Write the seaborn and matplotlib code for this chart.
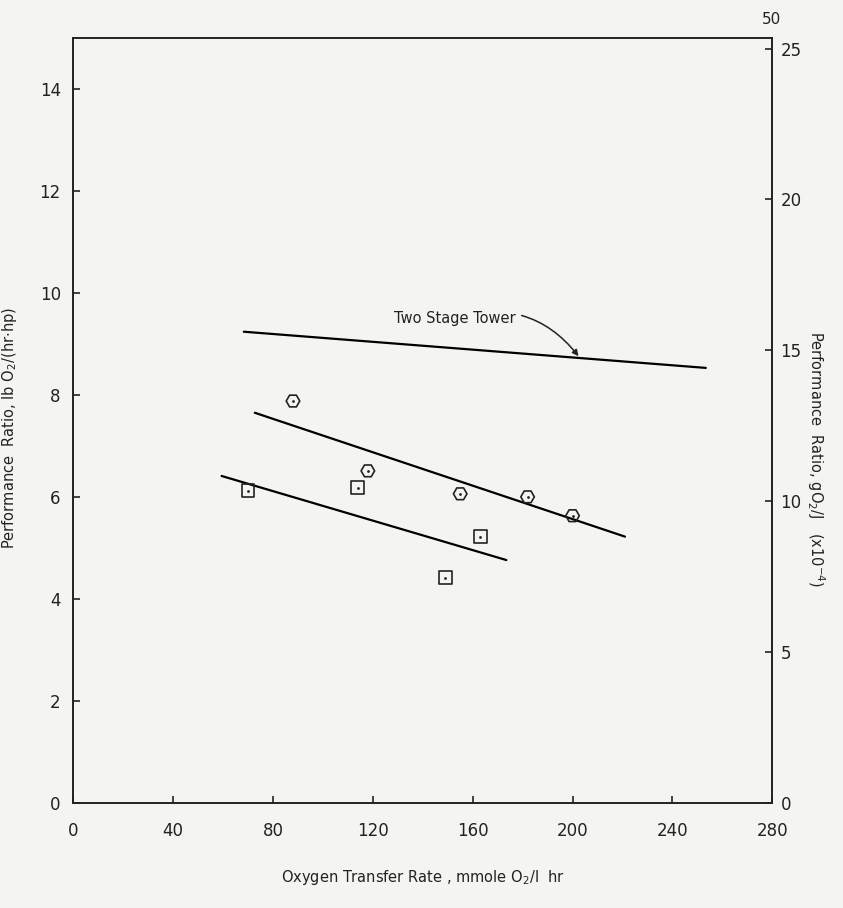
import numpy as np
import pandas as pd
from matplotlib import pyplot as plt
import seaborn as sns

# data
circ_x = [88, 118, 155, 182, 200]
circ_y = [7.88, 6.51, 6.06, 6.0, 5.63]
sq_x = [70, 114, 149, 163]
sq_y = [6.12, 6.18, 4.41, 5.22]

# fitted lines (end points)
upper_x = [72.7, 221]
upper_y = [7.65, 5.22]
lower_x = [59.4, 173.5]
lower_y = [6.41, 4.76]
tower_x = [68.3, 253.4]
tower_y = [9.24, 8.53]

xticks = [0, 40, 80, 120, 160, 200, 240, 280]
yticks_left = [0, 2, 4, 6, 8, 10, 12, 14]
yticks_right = [0, 5, 10, 15, 20, 25]
conv = 1.69  # lb O2/(hr hp) -> g O2/J x1e-4

sns.set_style("ticks")
plt.rcParams['font.family'] = ['DejaVu Sans']
ink = '#222222'
bg = '#f4f4f3'

fig = plt.figure(figsize=(8.43, 9.08), dpi=100, facecolor=bg)
ax = fig.add_axes([0.087, 0.116, 0.829, 0.842])
ax.set_facecolor(bg)

for xs, ys in [(upper_x, upper_y), (lower_x, lower_y), (tower_x, tower_y)]:
    sns.lineplot(x=xs, y=ys, ax=ax, color='black', lw=1.6, estimator=None)

sns.scatterplot(x=circ_x, y=circ_y, ax=ax, marker='H', s=95, facecolor='none',
                edgecolor=ink, linewidth=1.2, zorder=3)
sns.scatterplot(x=sq_x, y=sq_y, ax=ax, marker='s', s=85, facecolor='none',
                edgecolor=ink, linewidth=1.2, zorder=3)
sns.scatterplot(x=circ_x + sq_x, y=circ_y + sq_y, ax=ax, marker='o', s=4,
                color=ink, linewidth=0, zorder=4)

ax.annotate('Two Stage Tower', xy=(202.4, 8.76), xytext=(128.5, 9.49),
            fontsize=10.5, color=ink, va='center', ha='left',
            arrowprops=dict(arrowstyle='-|>', color=ink, lw=1.1,
                            connectionstyle='arc3,rad=-0.35',
                            shrinkA=2, shrinkB=0, mutation_scale=9))

ax.set_xlim(0, 280)
ax.set_ylim(0, 15)
ax.set_xticks(xticks)
ax.set_yticks(yticks_left)
ax.tick_params(direction='in', length=5, width=1.2, colors=ink, labelsize=12)
ax.tick_params(axis='x', pad=14)
ax.tick_params(axis='y', pad=9)
for s in ax.spines.values():
    s.set_visible(True)
    s.set_linewidth(1.2)
    s.set_color(ink)

ax.set_xlabel('Oxygen Transfer Rate , mmole O$_2$/l  hr', fontsize=10.5, color=ink)
ax.xaxis.set_label_coords(0.5, -0.085)
ax.set_ylabel('Performance  Ratio, lb O$_2$/(hr$\\cdot$hp)', fontsize=10.5, color=ink)
ax.yaxis.set_label_coords(-0.078, 0.49)

ax2 = ax.twinx()
ax2.set_ylim(0, 15 * conv)
ax2.set_yticks(yticks_right)
ax2.tick_params(direction='in', length=5, width=1.2, colors=ink, labelsize=12, pad=6)
for s in ax2.spines.values():
    s.set_linewidth(1.2)
    s.set_color(ink)
ax2.set_ylabel('Performance  Ratio, gO$_2$/J   (x10$^{-4}$)', fontsize=10.5,
               color=ink, rotation=270)
ax2.yaxis.set_label_coords(1.078, 0.45)

fig.text(0.915, 0.978, '50', fontsize=11, color=ink, ha='center', va='center')

fig.savefig('out.png', dpi=100, facecolor=bg)
